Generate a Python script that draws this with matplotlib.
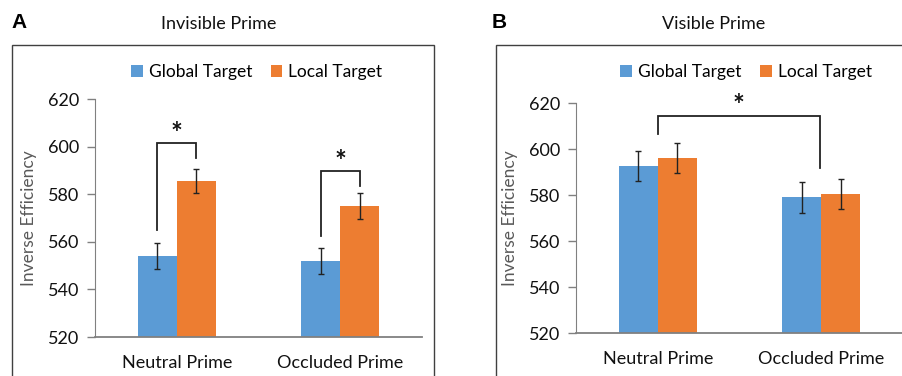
import matplotlib.pyplot as plt
from matplotlib.patches import Rectangle

plt.rcParams['font.family'] = ['Lato', 'DejaVu Sans']

categorias = ['Neutral Prime', 'Occluded Prime']
series = ['Global Target', 'Local Target']
colores = ['#5B9BD5', '#ED7D31']

# Panel A: invisible prime
inv_global = [554.0, 551.9]
inv_local = [585.5, 574.9]
inv_err_global = [5.3, 5.4]
inv_err_local = [5.2, 5.5]

# Panel B: visible prime
vis_global = [592.7, 579.1]
vis_local = [596.1, 580.6]
vis_err_global = [6.7, 6.6]
vis_err_local = [6.6, 6.6]

ticks_y = [520, 540, 560, 580, 600, 620]

# brackets de significacion: (x izq, x der, y izq, y der, y arriba)
brackets_inv = [(-0.12, 0.12, 565.0, 595.2, 601.5),
                (0.88, 1.12, 562.4, 583.4, 589.7)]
brackets_vis = [(0.0, 0.99, 606.8, 591.7, 614.5)]

W, H = 903, 376
fig = plt.figure(figsize=(W / 100, H / 100), dpi=100)

# marcos de cada panel
fig.patches.append(Rectangle((12 / W, -0.1), (434 - 12) / W, (376 - 45) / H + 0.1,
                             transform=fig.transFigure, fill=False, ec='#404040', lw=1))
fig.patches.append(Rectangle((496 / W, -0.1), 0.5, (376 - 45) / H + 0.1,
                             transform=fig.transFigure, fill=False, ec='#404040', lw=1))

ancho = 0.24


def panel(rect, globales, locales, err_g, err_l, brackets, titulo, letra, title_x, letra_x, leg_x, leg_y):
    ax = fig.add_axes(rect)
    x = range(len(categorias))
    xg = [i - ancho / 2 for i in x]
    xl = [i + ancho / 2 for i in x]
    ax.bar(xg, globales, width=ancho, color=colores[0], label=series[0],
           yerr=err_g, capsize=2.5, error_kw=dict(elinewidth=1, capthick=1, ecolor='#222222'))
    ax.bar(xl, locales, width=ancho, color=colores[1], label=series[1],
           yerr=err_l, capsize=2.5, error_kw=dict(elinewidth=1, capthick=1, ecolor='#222222'))
    ax.set_xlim(-0.5, 1.5)
    ax.set_ylim(520, 620)
    ax.set_yticks(ticks_y)
    ax.set_xticks(list(x))
    ax.set_xticklabels(categorias, fontsize=13, color='#111111')
    ax.tick_params(axis='x', length=0, pad=13)
    ax.tick_params(axis='y', length=6, width=1, color='#808080', labelsize=13,
                   labelcolor='#111111', pad=5)
    for s in ['top', 'right']:
        ax.spines[s].set_visible(False)
    ax.spines['left'].set_color('#808080')
    ax.spines['bottom'].set_color('#808080')
    ax.spines['bottom'].set_linewidth(1.3)
    ax.set_ylabel('Inverse Efficiency', fontsize=12.5, color='#595959', labelpad=8)

    for x0, x1, y0, y1, ytop in brackets:
        ax.plot([x0, x0, x1, x1], [y0, ytop, ytop, y1], color='#222222', lw=1.3,
                clip_on=False, solid_joinstyle='miter')
        ax.text((x0 + x1) / 2, ytop - 1.5, '*', ha='center', va='bottom', fontsize=20,
                fontweight='bold', color='#111111', clip_on=False)

    ax.legend(loc='center', bbox_to_anchor=(leg_x, leg_y), ncol=2, frameon=False,
              fontsize=12.5, handlelength=0.65, handleheight=0.65, handletextpad=0.35,
              columnspacing=1.1, borderaxespad=0)
    fig.text(title_x / W, 1 - 24 / H, titulo, ha='center', va='center', fontsize=13, color='#111111')
    fig.text(letra_x / W, 1 - 23 / H, letra, ha='left', va='center', fontsize=15,
             fontweight='bold', family=['Liberation Sans', 'DejaVu Sans'])
    return ax


panel([95 / W, 39 / H, 327 / W, 238 / H], inv_global, inv_local, inv_err_global, inv_err_local,
      brackets_inv, 'Invisible Prime', 'A', 219, 11, 0.495, 1.113)
panel([576 / W, (376 - 333.3) / H, 327 / W, 230 / H], vis_global, vis_local, vis_err_global,
      vis_err_local, brackets_vis, 'Visible Prime', 'B', 714, 492, 0.52, 1.136)

fig.savefig('out.png', dpi=100)
